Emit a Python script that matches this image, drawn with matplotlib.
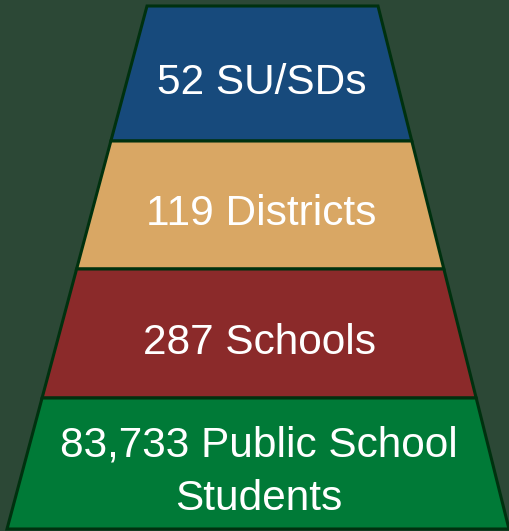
import matplotlib.pyplot as plt
from matplotlib.patches import Polygon

labels = ['52 SU/SDs', '119 Districts', '287 Schools', '83,733 Public School\nStudents']
counts = [52, 119, 287, 83733]
colors = ['#174A7C', '#D9A764', '#8B2A2A', '#007A37']

bg = '#2C4836'
edge = '#00310F'

# tier boundaries in pixels (top of figure = 0)
bounds = [6, 141, 269, 398, 529]
line_pitch = 53


def x_left(y):
    return 147 - 140 / 523 * (y - 6)


def x_right(y):
    return 378 + 131 / 523 * (y - 6)


fig = plt.figure(figsize=(5.10, 5.31), dpi=100)
fig.patch.set_facecolor(bg)
ax = fig.add_axes([0, 0, 1, 1])
ax.set_facecolor(bg)
ax.set_xlim(0, 510)
ax.set_ylim(531, 0)
ax.axis('off')

for i, (label, color) in enumerate(zip(labels, colors)):
    y0, y1 = bounds[i], bounds[i + 1]
    pts = [(x_left(y0), y0), (x_right(y0), y0), (x_right(y1), y1), (x_left(y1), y1)]
    ax.add_patch(Polygon(pts, closed=True, facecolor=color, edgecolor=edge, linewidth=2.2))
    mid = (y0 + y1) / 2
    cx = (x_left(mid) + x_right(mid)) / 2
    lines = label.split('\n')
    n = len(lines)
    for k, line in enumerate(lines):
        by = mid + 20 + (k - (n - 1) / 2) * line_pitch
        ax.text(cx, by, line, ha='center', va='baseline', color='white',
                fontsize=30.5, family='Liberation Sans')

plt.savefig('out.png', dpi=100, facecolor=bg)
